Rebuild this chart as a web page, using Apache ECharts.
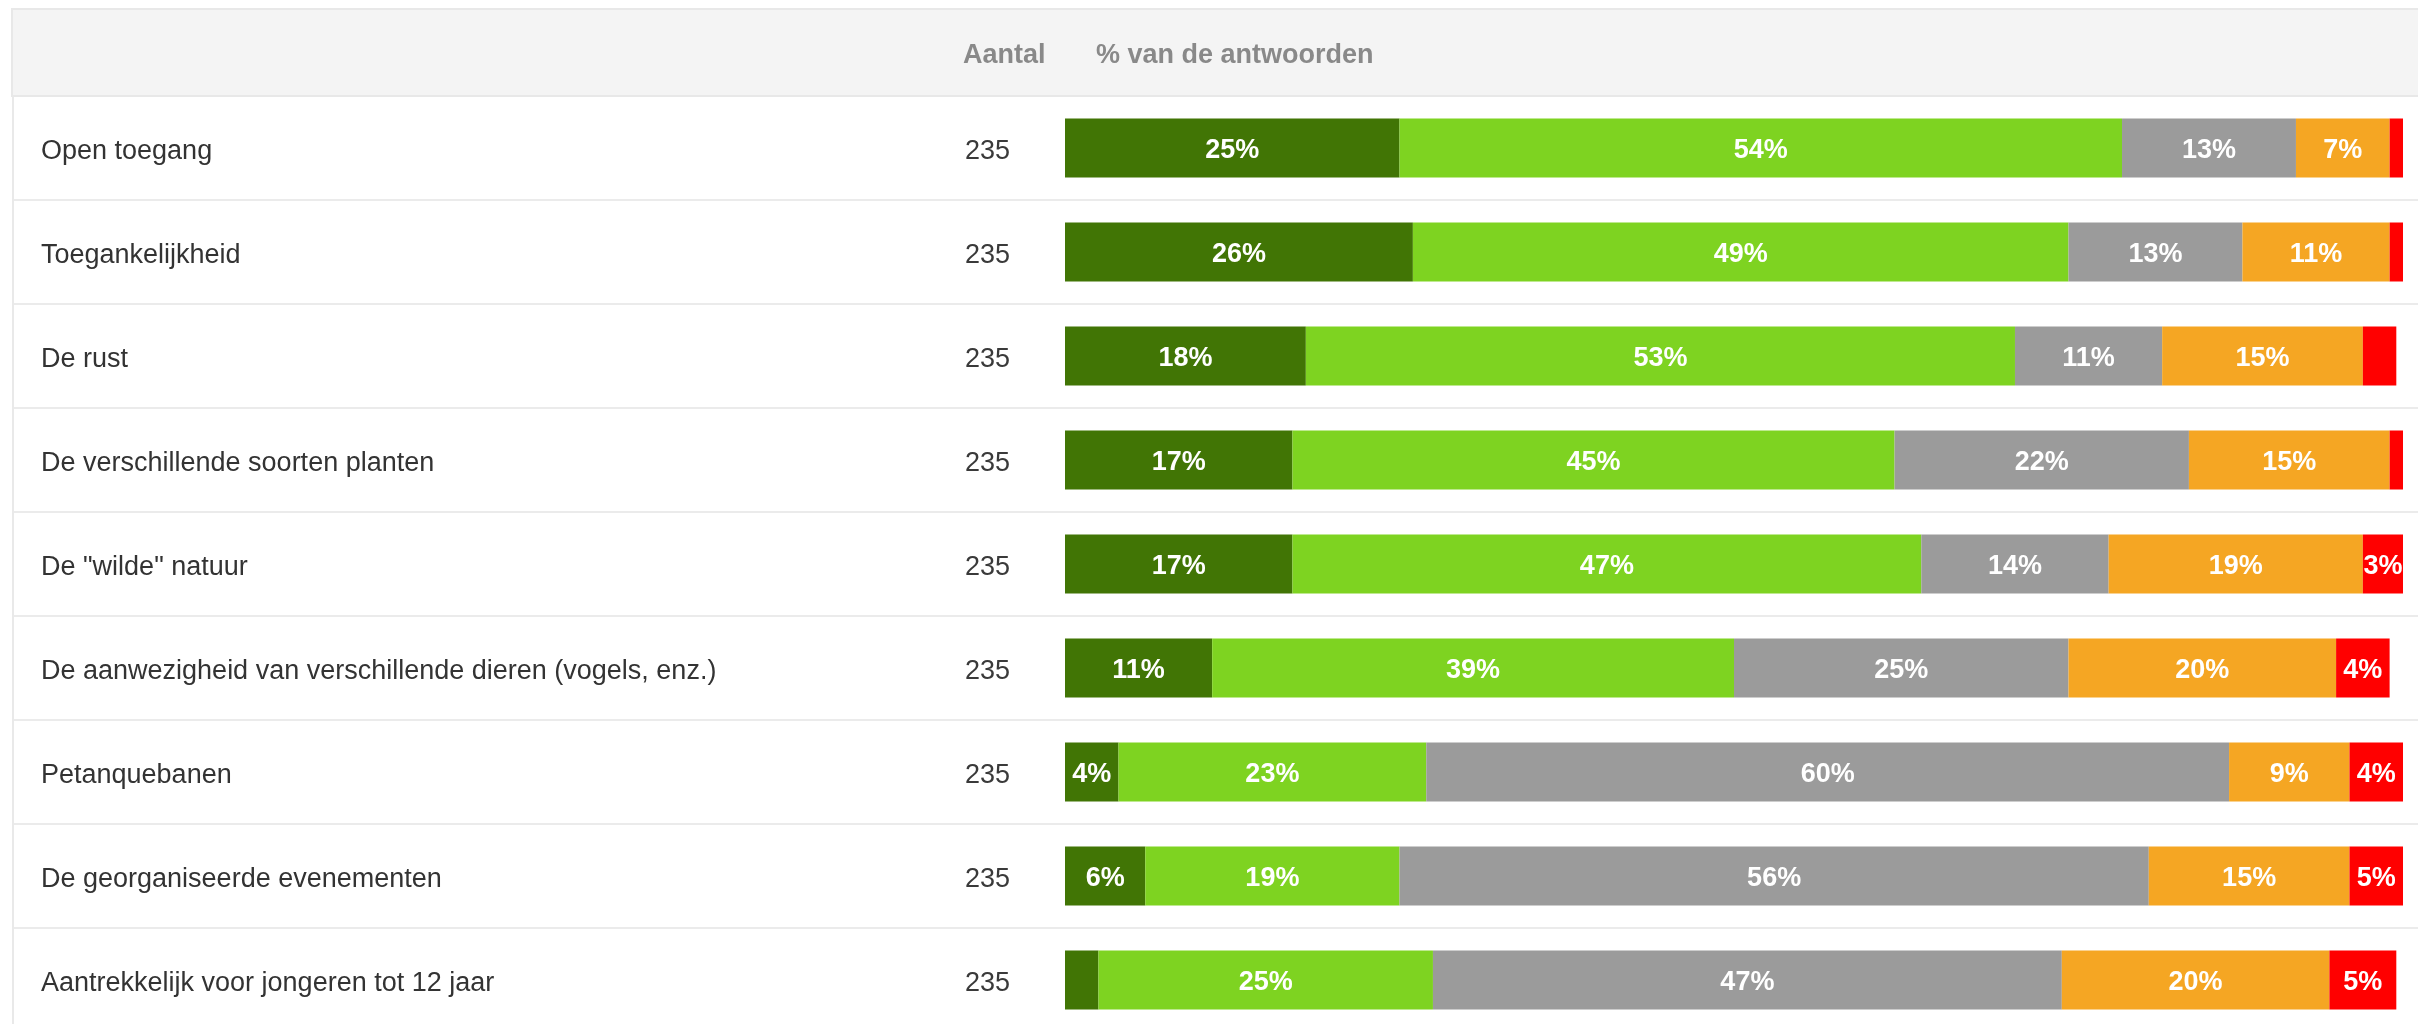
<!DOCTYPE html>
<html>
<head>
<meta charset="utf-8">
<title>Waardering van het park</title>
<script src="https://cdn.jsdelivr.net/npm/echarts@6/dist/echarts.min.js"></script>
<style>
  html, body { margin: 0; padding: 0; background: #ffffff; }
  #chart { width: 2418px; height: 1024px; }
</style>
</head>
<body>
<div id="chart"></div>
<script>
// Onderdelen van het park, van boven naar beneden
const categories = [
  'Open toegang',
  'Toegankelijkheid',
  'De rust',
  'De verschillende soorten planten',
  'De "wilde" natuur',
  'De aanwezigheid van verschillende dieren (vogels, enz.)',
  'Petanquebanen',
  'De georganiseerde evenementen',
  'Aantrekkelijk voor jongeren tot 12 jaar'
];

// Aantal antwoorden per onderdeel
const counts = [235, 235, 235, 235, 235, 235, 235, 235, 235];

// Percentage van de antwoorden per beoordeling
const zeerTevreden    = [25, 26, 18, 17, 17, 11, 4, 6, 2.5];
const tevreden        = [54, 49, 53, 45, 47, 39, 23, 19, 25];
const neutraal        = [13, 13, 11, 22, 14, 25, 60, 56, 47];
const ontevreden      = [7, 11, 15, 15, 19, 20, 9, 15, 20];
const zeerOntevreden  = [1, 1, 2.5, 1, 3, 4, 4, 5, 5];

// Kolomkoppen
const headerCount = 'Aantal';
const headerPercent = '% van de antwoorden';

const FONT = '"Liberation Sans", Arial, sans-serif';
const ROW_H = 104;
const TOP = 96;

function stackSeries(name, values, color) {
  return {
    name: name,
    type: 'bar',
    stack: 'antwoorden',
    xAxisIndex: 1,
    yAxisIndex: 1,
    barWidth: 59,
    itemStyle: { color: color },
    label: {
      show: true,
      position: 'inside',
      offset: [0, 3],
      color: '#ffffff',
      fontFamily: FONT,
      fontWeight: 'bold',
      fontSize: 27,
      formatter: function (p) { return p.value >= 3 ? p.value + '%' : ''; }
    },
    emphasis: { disabled: true },
    data: values
  };
}

// rijtekst iets lager in de rij plaatsen
function rowText(color) {
  return {
    t: { color: color, fontFamily: FONT, fontSize: 27, padding: [8, 0, 0, 0] }
  };
}

const chart = echarts.init(document.getElementById('chart'), null, { renderer: 'canvas' });

chart.setOption({
  animation: false,
  backgroundColor: '#ffffff',
  grid: [
    // tabel: rijlabels en scheidingslijnen
    { left: 13, right: 0, top: TOP, height: ROW_H * categories.length, outerBoundsMode: 'none' },
    // gestapelde balken
    { left: 1065, right: 15, top: TOP, height: ROW_H * categories.length, outerBoundsMode: 'none' }
  ],
  xAxis: [
    { gridIndex: 0, type: 'value', show: false, min: 0, max: 100 },
    { gridIndex: 1, type: 'value', show: false, min: 0, max: 100 }
  ],
  yAxis: [
    {
      gridIndex: 0,
      type: 'category',
      inverse: true,
      data: categories,
      axisLine: { show: true, lineStyle: { color: '#e9e9e9', width: 2 } },
      axisTick: { show: false },
      splitLine: { show: true, lineStyle: { color: '#ebebeb', width: 2 } },
      axisLabel: {
        inside: true,
        margin: 28,
        align: 'left',
        color: '#333333',
        fontFamily: FONT,
        fontSize: 27,
        formatter: function (v) { return '{t|' + v + '}'; },
        rich: rowText('#333333')
      }
    },
    {
      gridIndex: 1,
      type: 'category',
      inverse: true,
      data: categories,
      axisLine: { show: false },
      axisTick: { show: false },
      splitLine: { show: false },
      axisLabel: {
        margin: 100,
        align: 'left',
        color: '#3a3a3a',
        fontFamily: FONT,
        fontSize: 27,
        formatter: function (v, i) { return '{t|' + counts[i] + '}'; },
        rich: rowText('#3a3a3a')
      }
    }
  ],
  graphic: [
    {
      type: 'rect',
      z: 10,
      shape: { x: 12, y: 9, width: 2420, height: 87 },
      style: { fill: '#f4f4f4', stroke: '#e8e8e8', lineWidth: 2 }
    },
    {
      type: 'text',
      z: 11,
      x: 963,
      y: 56,
      style: {
        text: headerCount,
        fill: '#898989',
        font: 'bold 27px ' + FONT,
        verticalAlign: 'middle',
        align: 'left'
      }
    },
    {
      type: 'text',
      z: 11,
      x: 1096,
      y: 56,
      style: {
        text: headerPercent,
        fill: '#898989',
        font: 'bold 27px ' + FONT,
        verticalAlign: 'middle',
        align: 'left'
      }
    }
  ],
  series: [
    stackSeries('Zeer tevreden', zeerTevreden, '#417505'),
    stackSeries('Tevreden', tevreden, '#7ed321'),
    stackSeries('Neutraal', neutraal, '#9b9b9b'),
    stackSeries('Ontevreden', ontevreden, '#f5a623'),
    stackSeries('Zeer ontevreden', zeerOntevreden, '#ff0000')
  ]
});
</script>
</body>
</html>
